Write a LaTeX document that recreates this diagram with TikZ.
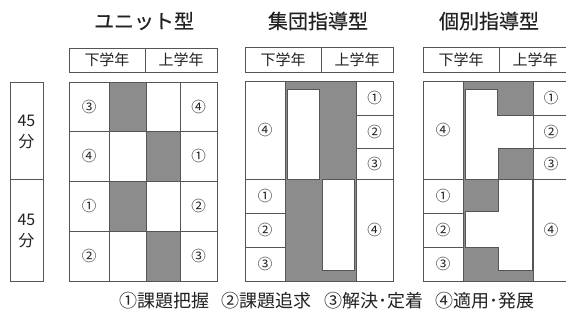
\documentclass[tikz,border=0pt]{standalone}
\usepackage{fontspec}
\setmainfont{Noto Sans CJK JP}
\newfontfamily\titlefont[FakeBold=0.35]{Noto Sans CJK JP}
\definecolor{lc}{HTML}{555555}
\definecolor{gf}{HTML}{8C8C8C}
\definecolor{tc}{HTML}{222222}
\begin{document}
\begin{tikzpicture}[x=1pt,y=-1pt,
  cellbox/.style={draw=lc, line width=1pt},
  whitebox/.style={fill=white, draw=lc, line width=1pt},
  lab/.style={font=\fontsize{14.5}{14.5}\selectfont, text=tc, inner sep=0pt},
  headtxt/.style={font=\fontsize{15}{15}\selectfont, text=tc, inner sep=0pt},
  titletxt/.style={font=\titlefont\fontsize{20}{20}\selectfont, text=tc, inner sep=0pt},
  mintxt/.style={font=\fontsize{16}{21}\selectfont, text=tc, inner sep=0pt, align=center},
  legtxt/.style={font=\fontsize{18}{18}\selectfont, text=tc, inner sep=0pt}]
\useasboundingbox (0,0) rectangle (566,322);
\clip (0,0) rectangle (566,322);
\fill[white] (0,0) rectangle (566,322);

% titles
\node[titletxt] (t1) at (144,21) {ユニット型};
\node[titletxt] (t2) at (318,21) {集団指導型};
\node[titletxt] (t3) at (489,21) {個別指導型};

% left time boxes
\draw[cellbox] (10,82) rectangle (43,179);
\draw[cellbox] (10,179) rectangle (43,281);
\node[mintxt] (m1) at (26.5,132) {45\\分};
\node[mintxt] (m2) at (26.5,231) {45\\分};

% ===== Unit =====
\draw[cellbox] (69,48) rectangle (217,72);
\draw[lc, line width=1pt] (145,48) -- (145,72);
\node[headtxt] (uh1) at (107,60) {下学年};
\node[headtxt] (uh2) at (181,60) {上学年};
\fill[gf] (109,82) rectangle (146,131);
\fill[gf] (146,131) rectangle (180,181);
\fill[gf] (109,181) rectangle (146,231);
\fill[gf] (146,231) rectangle (180,281);
\foreach \xa/\xb in {69/109,109/146,146/180,180/217}{
  \foreach \ya/\yb in {82/131,131/181,181/231,231/281}{
    \draw[cellbox] (\xa,\ya) rectangle (\xb,\yb);
  }
}
\node[lab] (ua1) at (89,106.5) {③};
\node[lab] (ua2) at (89,156) {④};
\node[lab] (ua3) at (89,206) {①};
\node[lab] (ua4) at (89,256) {②};
\node[lab] (ub1) at (198.5,106.5) {④};
\node[lab] (ub2) at (198.5,156) {①};
\node[lab] (ub3) at (198.5,206) {②};
\node[lab] (ub4) at (198.5,256) {③};

% ===== Group =====
\draw[cellbox] (245,47) rectangle (393,72);
\draw[lc, line width=1pt] (321,47) -- (321,72);
\node[headtxt] (gh1) at (283,60) {下学年};
\node[headtxt] (gh2) at (357,60) {上学年};
\fill[gf] (285,81) rectangle (356,281);
\draw[whitebox] (287,89) rectangle (319,179);
\draw[whitebox] (322,179) rectangle (354,270);
\draw[cellbox] (245,81) rectangle (285,179);
\draw[cellbox] (245,179) rectangle (285,213);
\draw[cellbox] (245,213) rectangle (285,247);
\draw[cellbox] (245,247) rectangle (285,281);
\draw[cellbox] (356,81) rectangle (393,115);
\draw[cellbox] (356,115) rectangle (393,148);
\draw[cellbox] (356,148) rectangle (393,179);
\draw[cellbox] (356,179) rectangle (393,281);
\draw[cellbox] (245,81) rectangle (393,281);
\node[lab] (ga1) at (265,130) {④};
\node[lab] (ga2) at (265,196) {①};
\node[lab] (ga3) at (265,230) {②};
\node[lab] (ga4) at (265,264) {③};
\node[lab] (gb1) at (374.5,98) {①};
\node[lab] (gb2) at (374.5,131.5) {②};
\node[lab] (gb3) at (374.5,163.5) {③};
\node[lab] (gb4) at (374.5,230) {④};

% ===== Individual =====
\draw[cellbox] (423,47) rectangle (571,72);
\draw[lc, line width=1pt] (499,47) -- (499,72);
\node[headtxt] (ih1) at (461,60) {下学年};
\node[headtxt] (ih2) at (535,60) {上学年};
\fill[gf] (463,81) rectangle (533,281);
\draw[whitebox] (465,89) -- (497,89) -- (497,115) -- (533,115) -- (533,148)
  -- (498,148) -- (498,179) -- (465,179) -- cycle;
\draw[whitebox] (465,211) -- (498,211) -- (498,179) -- (532,179) -- (532,270)
  -- (498,270) -- (498,247) -- (465,247) -- cycle;
\draw[cellbox] (423,81) rectangle (463,179);
\draw[cellbox] (423,179) rectangle (463,213);
\draw[cellbox] (423,213) rectangle (463,247);
\draw[cellbox] (423,247) rectangle (463,281);
\draw[cellbox] (533,81) rectangle (570,115);
\draw[cellbox] (533,115) rectangle (570,148);
\draw[cellbox] (533,148) rectangle (570,179);
\draw[cellbox] (533,179) rectangle (570,281);
\draw[cellbox] (423,81) rectangle (570,281);
\node[lab] (ia1) at (443,130) {④};
\node[lab] (ia2) at (443,196) {①};
\node[lab] (ia3) at (443,230) {②};
\node[lab] (ia4) at (443,264) {③};
\node[lab] (ib1) at (551,98) {①};
\node[lab] (ib2) at (551,131.5) {②};
\node[lab] (ib3) at (551,163.5) {③};
\node[lab] (ib4) at (551,230) {④};

% legend
\node[legtxt] (leg) at (327,301) {①課題把握\hspace{0.7em}②課題追求\hspace{0.7em}③解決･定着\hspace{0.7em}④適用･発展};
\end{tikzpicture}
\end{document}
